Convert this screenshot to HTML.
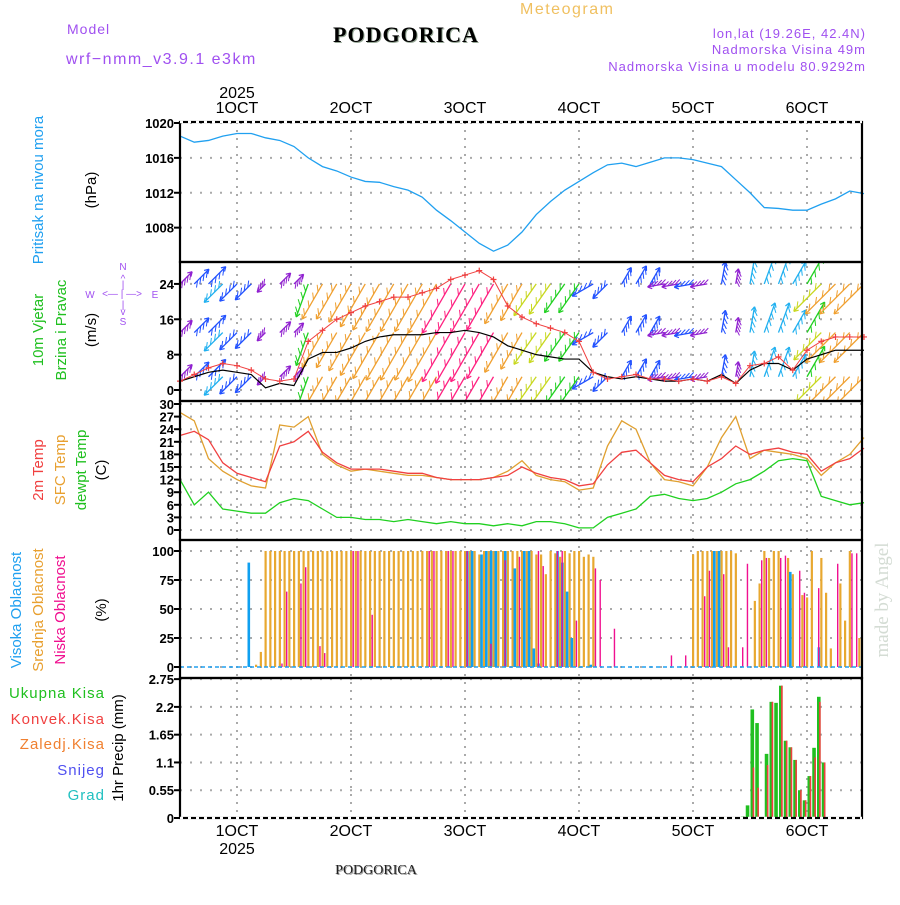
<!DOCTYPE html>
<html><head><meta charset="utf-8"><style>
body{margin:0;background:#fff}
svg text{font-family:"Liberation Sans",sans-serif}
.tk{font-size:13px;font-weight:bold;text-anchor:end;fill:#000}
</style></head><body>
<svg id="c" width="900" height="900" xmlns="http://www.w3.org/2000/svg">
<text x="520" y="14" font-size="16" fill="#f0c060" letter-spacing="1.5">Meteogram</text>
<text x="407" y="43" font-size="22" font-weight="bold" text-anchor="middle" fill="#9a9" style="font-family:'Liberation Serif',serif" letter-spacing="1">PODGORICA</text>
<text x="406" y="42" font-size="22" font-weight="bold" text-anchor="middle" fill="#000" style="font-family:'Liberation Serif',serif" letter-spacing="1">PODGORICA</text>
<text x="67" y="34" font-size="14" fill="#a050f0" letter-spacing="1">Model</text>
<text x="66" y="64" font-size="16" fill="#a050f0" letter-spacing="1.5">wrf−nmm_v3.9.1 e3km</text>
<text x="866" y="38" font-size="13" fill="#a050f0" text-anchor="end" letter-spacing="1">lon,lat (19.26E, 42.4N)</text>
<text x="866" y="54" font-size="13" fill="#a050f0" text-anchor="end" letter-spacing="1">Nadmorska Visina 49m</text>
<text x="866" y="71" font-size="13" fill="#a050f0" text-anchor="end" letter-spacing="1">Nadmorska Visina u modelu 80.9292m</text>
<text x="237" y="98" font-size="16" text-anchor="middle">2025</text>
<text x="377" y="875" font-size="14" text-anchor="middle" fill="#999" style="font-family:'Liberation Serif',serif">PODGORICA</text>
<text x="376" y="874" font-size="14" text-anchor="middle" fill="#222" style="font-family:'Liberation Serif',serif">PODGORICA</text>
<text transform="translate(888,600) rotate(-90)" font-size="19" text-anchor="middle" fill="#d4dcd4" style="font-family:'Liberation Serif',serif">made by Angel</text>
<g font-size="15">
<text transform="translate(43,190) rotate(-90)" text-anchor="middle" fill="#20a0f0">Pritisak na nivou mora</text>
<text transform="translate(96,190) rotate(-90)" text-anchor="middle">(hPa)</text>
<text transform="translate(43,330) rotate(-90)" text-anchor="middle" fill="#20c020">10m Vjetar</text>
<text transform="translate(66,330) rotate(-90)" text-anchor="middle" fill="#20c020">Brzina i Pravac</text>
<text transform="translate(96,330) rotate(-90)" text-anchor="middle">(m/s)</text>
<g fill="#a050f0" font-size="10" text-anchor="middle">
<text x="123" y="270">N</text><text x="123" y="282">^</text><text x="123" y="288">|</text>
<text x="90" y="298">W</text><text x="122" y="297">&lt;— | —&gt;</text><text x="155" y="298">E</text>
<text x="123" y="308">|</text><text x="123" y="315">v</text><text x="123" y="325">S</text>
</g>
<text transform="translate(43,470) rotate(-90)" text-anchor="middle" fill="#f04040">2m Temp</text>
<text transform="translate(65,470) rotate(-90)" text-anchor="middle" fill="#e8a030">SFC Temp</text>
<text transform="translate(86,470) rotate(-90)" text-anchor="middle" fill="#20c020">dewpt Temp</text>
<text transform="translate(106,470) rotate(-90)" text-anchor="middle">(C)</text>
<text transform="translate(21,610) rotate(-90)" text-anchor="middle" fill="#20a0f0">Visoka Oblacnost</text>
<text transform="translate(43,610) rotate(-90)" text-anchor="middle" fill="#e8a030">Srednja Oblacnost</text>
<text transform="translate(65,610) rotate(-90)" text-anchor="middle" fill="#f01090">Niska Oblacnost</text>
<text transform="translate(106,610) rotate(-90)" text-anchor="middle">(%)</text>
<text transform="translate(123,748) rotate(-90)" text-anchor="middle">1hr Precip (mm)</text>
<text x="105" y="698" text-anchor="end" fill="#20c020" letter-spacing="1">Ukupna Kisa</text>
<text x="105" y="724" text-anchor="end" fill="#f04040" letter-spacing="1">Konvek.Kisa</text>
<text x="105" y="749" text-anchor="end" fill="#f08030" letter-spacing="1">Zaledj.Kisa</text>
<text x="105" y="775" text-anchor="end" fill="#5050f0" letter-spacing="1">Snijeg</text>
<text x="105" y="800" text-anchor="end" fill="#20c0c0" letter-spacing="1">Grad</text>
</g>
<g id="plot"></g>
</svg>
<script>
const days=["1OCT","2OCT","3OCT","4OCT","5OCT","6OCT"];
const presTicks=[1008,1012,1016,1020];
const windTicks=[0,8,16,24];
const tempTicks=[0,3,6,9,12,15,18,21,24,27,30];
const cloudTicks=[0,25,50,75,100];
const precTicks=["0","0.55","1.1","1.65","2.2","2.75"];
// 3-hourly series, k=0..48 (start 30 Sep 12UTC)
const pressure=[1018.5,1017.8,1018.0,1018.5,1018.8,1018.8,1018.3,1018.0,1017.3,1016,1015,1014.5,1013.8,1013.3,1013.2,1012.7,1012.3,1011.5,1010,1008.8,1007.5,1006.2,1005.3,1006,1007.5,1009.5,1011,1012.3,1013.3,1014.3,1015.2,1015.4,1015,1015.5,1016,1016,1015.8,1015.4,1015,1013.5,1012,1010.3,1010.2,1010,1010,1010.7,1011.3,1012.2,1011.9];
const t2m=[22.5,23.5,21.5,16,13.5,12.5,11.5,20,21,23.5,18.5,16,14.5,14.5,14.5,14,13.5,13.5,12.5,12,12,12,12.5,13,15,13.5,12.5,12,10.5,11,15.5,18.5,19,16,13,12,11.5,15,17,20,18,19,19.5,18.5,18,14,16,17,19.5];
const tsfc=[28,26,17,14,12,10.5,10,25,24.5,27,18,15.5,14,14.5,14,13.5,13,13,12.5,12,12,12,12.5,14,16.5,13,12,11.5,9.5,10,20,26,24,16,12,11.5,10.5,15,22,27,17,19,18.5,18,17,13,16,18,22];
const dewpt=[12,6,9,5,4.5,4,4,6.5,7.5,7,5,3,3,2.5,2.5,2,2.5,2,1.5,2,1.5,1.5,1,1.5,1,2,2,1.5,0.5,0.5,3,4,5,8,8.5,7.5,7,7.5,9,11,12,14,16.5,17,16.5,8,7,6,6.5];
const wspd=[2,3,4,4.5,4,3.5,0.5,1.5,1,7,8.5,8.5,9.5,11,12,12.5,12.5,12.5,13,13,13.5,13,12,10,9,8,7.5,7,7,4,3,2.5,3,2.5,2,2,2.5,2,3.5,1.5,4.5,6,6,4.5,7,8,9,9,9];
const gust=[2,3.5,5,6,5.5,4.5,2.5,2,2.5,11,13.5,16,17.5,19,20,21,21,22,23,25,26,27,25,19,16.5,15,14,13,11,4,2.5,3,3.5,2.5,2.5,2,2.5,2,3,1.5,5.5,6,7.5,4.5,9,11,12,12,12];
const wdir=[225,225,225,45,45,45,45,225,225,20,30,30,30,30,30,30,30,30,30,30,30,30,30,30,30,35,35,35,35,60,45,210,210,210,80,80,80,80,190,190,190,200,200,210,210,45,45,45,45];
// hourly series h=0..143
const midCloud=[0,0,0,0,0,0,0,0,0,0,0,0,0,0,0,0,2,13,100,100,100,100,100,100,100,100,100,100,100,100,100,100,100,100,100,100,100,100,100,100,100,100,100,100,100,100,100,100,100,100,100,100,100,100,100,100,100,100,100,100,100,100,100,97,100,100,100,100,100,100,100,100,100,100,100,97,97,80,100,98,95,100,98,100,100,95,97,95,0,0,0,0,0,0,0,0,0,0,0,0,0,0,0,0,0,0,0,0,97,100,100,100,100,100,100,100,100,98,0,0,0,57,72,100,94,100,100,0,94,80,0,62,60,100,0,94,64,16,0,72,40,100,0,25];
const lowCloud=[0,0,0,0,0,0,0,0,0,0,0,0,0,0,0,0,0,0,0,0,0,3,65,0,0,72,86,0,0,18,12,0,0,0,0,0,100,100,0,0,45,0,0,0,0,0,0,0,0,0,0,0,100,100,0,0,100,100,0,0,100,0,0,0,0,20,0,0,92,0,0,95,0,0,0,100,87,0,0,100,100,0,0,40,0,0,0,85,75,0,0,33,0,0,0,0,0,0,0,0,0,0,0,10,0,0,10,0,0,0,61,83,0,0,80,17,0,0,17,89,0,0,92,94,0,0,94,96,0,0,83,64,0,0,68,0,0,0,89,0,0,98,98,0];
const highCloud=[0,0,0,0,0,0,0,0,0,0,0,0,0,0,90,0,0,0,0,0,0,0,0,0,0,0,0,0,0,0,0,0,0,0,0,0,0,0,0,0,0,0,0,0,0,0,0,0,0,0,0,0,0,0,0,0,0,0,0,0,100,100,0,97,100,100,100,0,100,0,85,0,100,100,16,3,0,0,0,100,90,65,25,0,0,0,2,0,0,0,0,0,0,0,0,0,0,0,0,0,0,0,0,0,0,0,0,0,0,0,0,0,100,100,0,0,0,0,0,0,0,0,0,0,0,0,0,0,82,0,0,0,0,0,17,0,0,0,0,0,0,0,0,0];
const precTotal=[0,0,0,0,0,0,0,0,0,0,0,0,0,0,0,0,0,0,0,0,0,0,0,0,0,0,0,0,0,0,0,0,0,0,0,0,0,0,0,0,0,0,0,0,0,0,0,0,0,0,0,0,0,0,0,0,0,0,0,0,0,0,0,0,0,0,0,0,0,0,0,0,0,0,0,0,0,0,0,0,0,0,0,0,0.02,0,0,0,0,0,0,0,0,0,0,0,0,0,0,0,0,0,0,0,0,0,0,0,0,0,0,0.01,0,0,0,0,0,0,0.03,0.25,2.15,1.88,0,1.27,2.3,2.28,2.62,1.53,1.4,1.15,0.55,0.35,0.83,1.39,2.4,1.1,0,0,0,0,0,0,0,0];
const precConv=[0,0,0,0,0,0,0,0,0,0,0,0,0,0,0,0,0,0,0,0,0,0,0,0,0,0,0,0,0,0,0,0,0,0,0,0,0,0,0,0,0,0,0,0,0,0,0,0,0,0,0,0,0,0,0,0,0,0,0,0,0,0,0,0,0,0,0,0,0,0,0,0,0,0,0,0,0,0,0,0,0,0,0,0,0,0,0,0,0,0,0,0,0,0,0,0,0,0,0,0,0,0,0,0,0,0,0,0,0,0,0,0,0,0,0,0,0,0,0,0,1.0,0.6,0,1.05,2.3,0,2.62,1.53,1.4,1.15,0.55,0.35,0.83,1.2,2.3,1.1,0,0,0,0,0,0,0,0];

const NS="http://www.w3.org/2000/svg";
const g=document.getElementById('plot');
function mk(t,a,n,p){const e=document.createElementNS(NS,t);for(const k in a)e.setAttribute(k,a[k]);


(p||g).appendChild(e);return e;}
const L=180,R=862;
const X=h=>L+h*4.75;
const Xk=k=>X(k*3);
const YP=p=>123+(1020-p)*8.72;
const YW=v=>390-v*4.42;
const YT=t=>530-t*4.2;
const YC=c=>667-c*1.16;
const YR=r=>818-r*50.5;
const panels=[[122,262],[262,401],[401,540],[540,678],[678,818]];
function hgrid(y){mk('line',{x1:L,x2:R,y1:y,y2:y,stroke:'#aaa','stroke-width':2,'stroke-dasharray':'2,8'},'grid-line');}
function tick(y,txt){mk('text',{x:174,y:y+5,class:'tk'},'tick-label').textContent=txt;mk('line',{x1:L-6,x2:L,y1:y,y2:y,stroke:'#000','stroke-width':2},'tick');}
presTicks.forEach(p=>{hgrid(YP(p));tick(YP(p),p);});
windTicks.forEach(v=>{hgrid(YW(v));tick(YW(v),v);});
tempTicks.forEach(t=>{hgrid(YT(t));tick(YT(t),t);});
cloudTicks.forEach(c=>{hgrid(YC(c));tick(YC(c),c);});
precTicks.forEach(r=>{hgrid(YR(+r));tick(YR(+r),r);});
days.forEach((d,i)=>{const x=X(12+24*i);
mk('line',{x1:x,x2:x,y1:122,y2:818,stroke:'#aaa','stroke-width':2,'stroke-dasharray':'2,6'},'day-grid');
mk('text',{x:x,y:113,'font-size':16,'text-anchor':'middle'},'top-day-label').textContent=d;
mk('text',{x:x,y:836,'font-size':16,'text-anchor':'middle'},'bottom-day-label').textContent=d;});
mk('text',{x:X(12),y:854,'font-size':16,'text-anchor':'middle'},'bottom-year').textContent='2025';
function line(arr,xf,yf,col,n,w){mk('polyline',{points:arr.map((v,i)=>xf(i)+','+yf(v)).join(' '),fill:'none',stroke:col,'stroke-width':w||1.3},n);}
line(pressure,Xk,YP,'#20a0f0','pressure-line');
function bars(arr,col,w,off,n){arr.forEach((v,h)=>{if(v>0)mk('rect',{x:X(h)+off,y:YC(v),width:w,height:YC(0)-YC(v),fill:col},n);});}
bars(midCloud,'#e8a830',2.2,-1,'mid-cloud-bar');
bars(highCloud,'#10a0f0',2.6,1,'high-cloud-bar');
bars(lowCloud,'#f01090',1.4,1.5,'low-cloud-bar');
mk('line',{x1:L,x2:R,y1:YC(0),y2:YC(0),stroke:'#20a0f0','stroke-width':1.5,'stroke-dasharray':'4,3'},'cloud-baseline');
precTotal.forEach((v,h)=>{if(v>0)mk('rect',{x:X(h)+0.5,y:YR(v),width:3.6,height:YR(0)-YR(v),fill:'#20c020'},'precip-total-bar');});
precConv.forEach((v,h)=>{if(v>0)mk('rect',{x:X(h)+2.6,y:YR(v),width:1.6,height:YR(0)-YR(v),fill:'#f04040'},'precip-conv-bar');});
line(dewpt,Xk,YT,'#20d020','dewpt-line');
line(tsfc,Xk,YT,'#e0a030','sfc-temp-line');
line(t2m,Xk,YT,'#f04040','t2m-line');
const cp=mk('clipPath',{id:'wclip'},'wind-clip');mk('rect',{x:L,y:263,width:R-L,height:137},'clip-rect',cp);
const wg=mk('g',{'clip-path':'url(#wclip)'},'wind-arrows');
function wcol(s,gs){if(gs>=25)return '#ff2080';return s<2.5?'#9020d0':s<4.5?'#2050ff':s<6.5?'#20b0f0':s<7.5?'#20d020':s<8.5?'#c8d820':'#f0a030';}
[1,11,21].forEach(base=>{
 wspd.forEach((s,k)=>{const to=(wdir[k]+180)*Math.PI/180;const len=10+s*3.6;
  const x0=Xk(k),y0=YW(base+(base==21?3:2));
  const x1=x0+Math.sin(to)*len,y1=y0-Math.cos(to)*len;
  const c=wcol(s,gust[k]);
  mk('line',{x1:x0,y1:y0,x2:x1,y2:y1,stroke:c,'stroke-width':1.3},'wind-arrow',wg);
  for(let j=1;j<=4;j++){const f=j/4.5;const ax=x0+(x1-x0)*f,ay=y0+(y1-y0)*f;
   mk('line',{x1:ax,y1:ay,x2:ax+Math.sin(to+2.5)*7,y2:ay-Math.cos(to+2.5)*7,stroke:c,'stroke-width':1},'wind-barb',wg);}
  mk('line',{x1:x1,y1:y1,x2:x1+Math.sin(to+2.6)*5,y2:y1-Math.cos(to+2.6)*5,stroke:c,'stroke-width':1.2},'wind-head',wg);
  mk('line',{x1:x1,y1:y1,x2:x1+Math.sin(to-2.6)*5,y2:y1-Math.cos(to-2.6)*5,stroke:c,'stroke-width':1.2},'wind-head',wg);
 });});
line(wspd,Xk,YW,'#000','wind-speed-line',1.2);
line(gust,Xk,YW,'#f04040','gust-line',1);
gust.forEach((v,k)=>{const x=Xk(k),y=YW(v);mk('path',{d:`M${x-3},${y}h6M${x},${y-3}v6`,stroke:'#f04040','stroke-width':1.2},'gust-marker');});
panels.forEach(p=>{mk('rect',{x:L,y:p[0],width:R-L,height:p[1]-p[0],fill:'none',stroke:'#000','stroke-width':2.2},'panel-frame');});
mk('line',{x1:L,x2:R,y1:122,y2:122,stroke:'#fff','stroke-width':2.4,'stroke-dasharray':'3,5'},'top-dash');
mk('line',{x1:L,x2:R,y1:818,y2:818,stroke:'#fff','stroke-width':2.4,'stroke-dasharray':'3,5'},'bottom-dash');
</script>
</body></html>
